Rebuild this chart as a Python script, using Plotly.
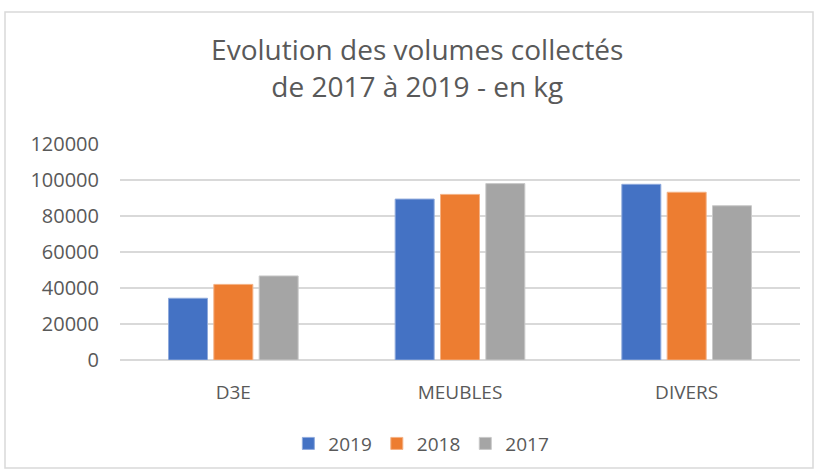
import plotly.graph_objects as go

categories = ["D3E", "MEUBLES", "DIVERS"]
series_names = ["2019", "2018", "2017"]
values_2019 = [34300, 89400, 97600]
values_2018 = [42000, 92000, 93200]
values_2017 = [46700, 98000, 85700]
colors = ["#4472C4", "#ED7D31", "#A5A5A5"]
edge_colors = ["#8FAADC", "#F4B183", "#C9C9C9"]
tick_vals = [0, 20000, 40000, 60000, 80000, 100000, 120000]
tick_text = [str(v) for v in tick_vals]

W, H = 815, 472
ml, mr, mt, mb = 120, 15, 144, 112

fig = go.Figure()
for name, vals, c, ec in zip(series_names, [values_2019, values_2018, values_2017], colors, edge_colors):
    fig.add_trace(go.Bar(x=categories, y=vals, name=name,
                         marker=dict(color=c, line=dict(color=ec, width=1))))

pw = W - ml - mr
ph = H - mt - mb
def px_x(x):
    return (x - ml) / pw
def px_y(y):
    return (H - mb - y) / ph

font = "Open Sans, Liberation Sans, Arial"
fig.update_layout(
    width=W, height=H,
    margin=dict(l=ml, r=mr, t=mt, b=mb),
    paper_bgcolor="white", plot_bgcolor="white",
    barmode="group", bargap=0.4, bargroupgap=0.14,
    title=dict(text="Evolution des volumes collectés<br>de 2017 à 2019 - en kg",
               x=0.512, xref="container", xanchor="center",
               y=0.872, yref="container", yanchor="top",
               font=dict(family=font, size=28, color="#595959")),
    font=dict(family=font, color="#595959"),
    xaxis=dict(showgrid=False, showline=False, ticks="",
               tickfont=dict(size=19, color="#595959"),
               ticklabelstandoff=19),
    yaxis=dict(range=[0, 120000], tickvals=tick_vals, ticktext=tick_text,
               showgrid=True, gridcolor="#D9D9D9", gridwidth=1.5,
               zeroline=True, zerolinecolor="#D9D9D9", zerolinewidth=1.5,
               tickfont=dict(size=20, color="#595959"), ticks="",
               ticklabelstandoff=20),
    legend=dict(orientation="h", xref="container", yref="container",
                x=0.517, xanchor="center", y=0.02, yanchor="bottom",
                font=dict(size=19, color="#595959"), itemwidth=30,
                traceorder="normal"),
    shapes=[dict(type="rect", xref="paper", yref="paper",
                 x0=px_x(5), x1=px_x(813), y0=px_y(12), y1=px_y(468),
                 line=dict(color="#D9D9D9", width=1.5), layer="below")],
)

fig.write_html("out.html", config={"displayModeBar": False},
               post_script="document.body.style.margin='0';")
